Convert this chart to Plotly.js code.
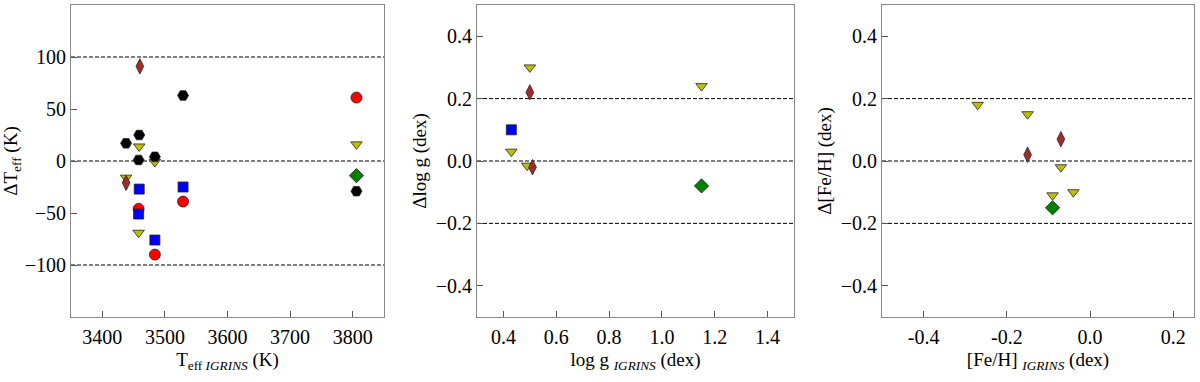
<!DOCTYPE html>
<html>
<head>
<meta charset="utf-8">
<script src="https://cdn.plot.ly/plotly-3.0.1.min.js"></script>
<style>
html,body{margin:0;padding:0;background:#fff}
#plot{width:1200px;height:382px}
</style>
</head>
<body>
<div id="plot"></div>
<script>
// Teff panel
const teffBlackX = [3529, 3438, 3459, 3458, 3484, 3806]
const teffBlackY = [63, 17, 25, 1, 4, -29]
const teffRedX = [3806, 3529, 3458, 3484]
const teffRedY = [61, -39, -46, -90]
const teffBlueX = [3459, 3529, 3458, 3484]
const teffBlueY = [-27, -25, -51, -76]
const teffYellowX = [3459, 3484, 3806, 3438, 3458]
const teffYellowY = [14, -1, 16, -16, -69]
const teffBrownX = [3460, 3438]
const teffBrownY = [91, -21]
const teffGreenX = [3806]
const teffGreenY = [-14]

// logg panel
const loggYellowX = [0.50, 1.15, 0.43, 0.49]
const loggYellowY = [0.30, 0.24, 0.03, -0.015]
const loggBrownX = [0.50, 0.51]
const loggBrownY = [0.22, -0.02]
const loggBlueX = [0.43]
const loggBlueY = [0.10]
const loggGreenX = [1.15]
const loggGreenY = [-0.08]

// [Fe/H] panel
const fehYellowX = [-0.27, -0.15, -0.07, -0.09, -0.04]
const fehYellowY = [0.18, 0.15, -0.02, -0.11, -0.10]
const fehBrownX = [-0.07, -0.15]
const fehBrownY = [0.07, 0.02]
const fehGreenX = [-0.09]
const fehGreenY = [-0.15]

const teffLines = [100, 0, -100]
const smallLines = [0.2, 0, -0.2]
const teffYTicks = [-100, -50, 0, 50, 100]
const fehTickVals = [-0.4, -0.2, 0, 0.2]
const fehTickText = ['-0.4', '-0.2', '0.0', '0.2']

const edge = {color:'#222', width:0.8}

function pts(x, y, ax, symbol, color, size){
return {
x:x, y:y,
xaxis:'x'+ax, yaxis:'y'+ax,
type:'scatter', mode:'markers',
marker:{symbol:symbol, color:color, size:size, line:edge},
showlegend:false, hoverinfo:'x+y'
}
}

const traces = [
pts(teffRedX, teffRedY, '', 'circle', '#ff0000', 11),
pts(teffBlueX, teffBlueY, '', 'square', '#0000ff', 10),
pts(teffYellowX, teffYellowY, '', 'triangle-down', '#bfbf00', 10),
pts(teffBrownX, teffBrownY, '', 'diamond-tall', '#a52a2a', 11),
pts(teffBlackX, teffBlackY, '', 'hexagon2', '#000000', 11),
pts(teffGreenX, teffGreenY, '', 'diamond', '#008000', 11),

pts(loggBlueX, loggBlueY, '2', 'square', '#0000ff', 10),
pts(loggYellowX, loggYellowY, '2', 'triangle-down', '#bfbf00', 10),
pts(loggBrownX, loggBrownY, '2', 'diamond-tall', '#a52a2a', 11),
pts(loggGreenX, loggGreenY, '2', 'diamond', '#008000', 11),

pts(fehYellowX, fehYellowY, '3', 'triangle-down', '#bfbf00', 10),
pts(fehBrownX, fehBrownY, '3', 'diamond-tall', '#a52a2a', 11),
pts(fehGreenX, fehGreenY, '3', 'diamond', '#008000', 11)
]

const serif = 'Liberation Serif'
const tickFont = {family:serif, size:20, color:'#000'}
const titleFont = {family:serif, size:19, color:'#000'}

function axisBase(extra){
const ax = {
showline:true, mirror:true, linecolor:'#888', linewidth:1,
ticks:'inside', ticklen:6, tickcolor:'#555', tickwidth:1,
showgrid:false, zeroline:false
}
Object.assign(ax, extra)
ax.tickfont = tickFont
return ax
}

function dashed(vals, ax){
return vals.map(v=>({
type:'line', layer:'below',
xref:'x'+ax+' domain', x0:0, x1:1,
yref:'y'+ax, y0:v, y1:v,
line:{color:'#000', width:1, dash:'4px,2px'}
}))
}

const layout = {
width:1200, height:382,
margin:{l:0, r:0, t:5, b:65},
paper_bgcolor:'#fff', plot_bgcolor:'#fff',
font:{family:serif, size:20, color:'#000'},
xaxis:axisBase({
domain:[71/1200, 384/1200], range:[3350, 3850], dtick:100, ticklabelstandoff:2,
title:{text:'T<sub>eff <i>IGRINS</i></sub> (K)', font:titleFont, standoff:5}
}),
yaxis:axisBase({
domain:[0,1], range:[-150, 150], tickmode:'array', tickvals:teffYTicks, anchor:'x',
title:{text:'ΔT<sub>eff</sub> (K)', font:titleFont, standoff:4}
}),
xaxis2:axisBase({
domain:[477/1200, 794/1200], range:[0.3, 1.5], dtick:0.2, tickformat:'.1f', anchor:'y2', ticklabelstandoff:2,
title:{text:'log g <sub><i>IGRINS</i></sub> (dex)', font:titleFont, standoff:5}
}),
yaxis2:axisBase({
domain:[0,1], range:[-0.5, 0.5], dtick:0.2, tickformat:'.1f', anchor:'x2',
title:{text:'Δlog g (dex)', font:titleFont, standoff:4}
}),
xaxis3:axisBase({
domain:[882/1200, 1194/1200], range:[-0.5, 0.25], tickmode:'array', ticklabelstandoff:2,
tickvals:fehTickVals, ticktext:fehTickText, anchor:'y3',
title:{text:'[Fe/H] <sub><i>IGRINS</i></sub> (dex)', font:titleFont, standoff:5}
}),
yaxis3:axisBase({
domain:[0,1], range:[-0.5, 0.5], dtick:0.2, tickformat:'.1f', anchor:'x3',
title:{text:'Δ[Fe/H] (dex)', font:titleFont, standoff:4}
}),
shapes:[].concat(dashed(teffLines, ''), dashed(smallLines, '2'), dashed(smallLines, '3'))
}

Plotly.newPlot('plot', traces, layout, {displayModeBar:false, staticPlot:true})
</script>
</body>
</html>
